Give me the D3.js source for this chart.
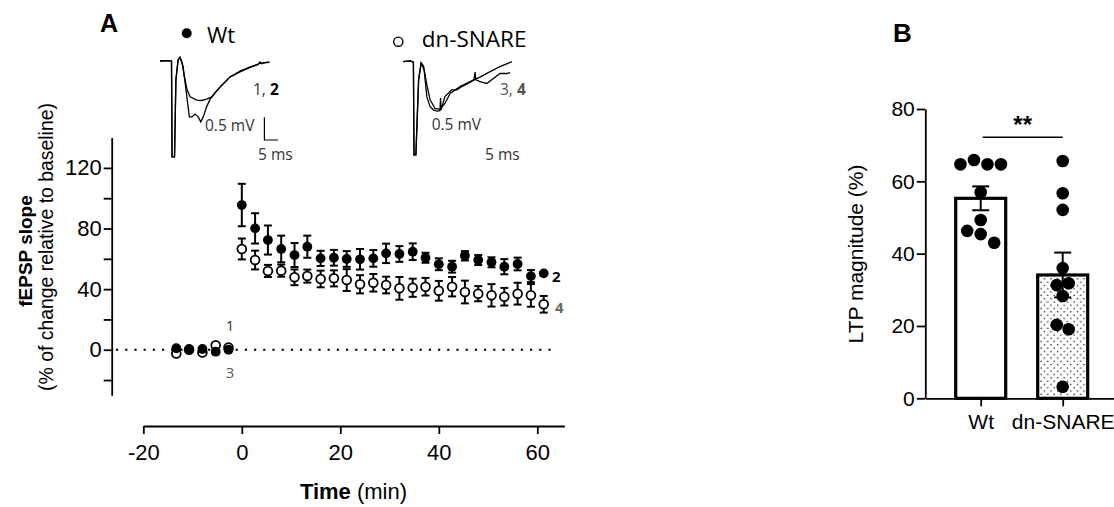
<!DOCTYPE html>
<html>
<head>
<meta charset="utf-8">
<script src="https://cdn.jsdelivr.net/npm/d3@7"></script>
<style>
  body { margin: 0; background: #fff; }
  svg { display: block; }
</style>
</head>
<body>
<div id="chart"></div>
<script>
// ---- panel A data (time course, mean +/- SEM) ----
var times = [-13.3, -10.7, -8, -5.3, -2.7,
  0, 2.7, 5.3, 8, 10.7, 13.3, 16, 18.7, 21.3, 24, 26.7, 29.3,
  32, 34.7, 37.3, 40, 42.7, 45.3, 48, 50.7, 53.3, 56, 58.7, 61.3];
var wtMean = [1, 0.5, 0.5, -1.3, 0,
  95.5, 80.1, 72.4, 66.5, 62.5, 68, 60.3, 60.7, 59.9, 59.7, 60.3, 63.6,
  63.2, 64.7, 60.7, 56.4, 54.8, 62, 59.2, 57.7, 54.8, 56.6, 48.6, 50.4];
var wtSem = [1, 1, 1, 1, 1,
  14, 10, 9.6, 8.8, 7.9, 7.3, 5, 5.2, 5.2, 6.8, 5.5, 6.4,
  5.2, 5.5, 3.3, 3.9, 3.9, 3.1, 3.3, 3.3, 5, 4.2, 4, 1];
var dnMean = [-2.4, 0, -1.8, 3, 1.5,
  66.5, 59.2, 52, 52.2, 47.8, 48.6, 46.7, 47.1, 46, 43.2, 44.2, 42.7,
  40.5, 40.9, 41.6, 38.9, 41.6, 38.1, 37, 35.9, 35, 37, 35.9, 30];
var dnSem = [1, 1, 1, 1, 1,
  6.9, 6.2, 4, 4, 5.2, 4.3, 5.5, 5.3, 7.2, 6, 5.8, 5.5,
  7.5, 6, 5.8, 6.5, 6.4, 7.5, 5, 7.4, 5.8, 7.2, 7.5, 5.5];
var xTicksA = [-20, 0, 20, 40, 60];
var yTicksA = [-20, 0, 20, 40, 60, 80, 100, 120];

// example fEPSP traces, [ms, mV]
var traceWt1 = [[0,0],[2.9,0.01],[4.2,0],[4.4,-2.11],[5.3,-2.11],[5.8,-0.42],[6.6,0.02],[7.3,0.08],
  [8,-0.02],[8.8,-0.31],[9.9,-0.64],[11,-0.79],[13.4,-0.86],[15.2,-0.87],[17,-0.84],[18.9,-0.79],
  [21.9,-0.57],[25.6,-0.35],[29.2,-0.24],[32.9,-0.14],[36.5,-0.05],[39.9,-0.02]];
var traceWt2 = [[0,0],[2.9,0.01],[4.2,0],[4.4,-2.11],[5.3,-2.11],[5.8,-0.42],[6.6,0.02],[7.3,0.08],
  [8.4,-0.11],[9.5,-0.64],[10.7,-1.23],[11.7,-1.23],[12.8,-1.17],[13.9,-1.23],[14.9,-1.34],[15.8,-1.23],
  [17,-1.01],[18.3,-0.84],[20.1,-0.7],[21.9,-0.58],[25.6,-0.35],[29.2,-0.22],[32.9,-0.13],[35.8,-0.08],
  [36.5,-0.02],[37,-0.06],[38,-0.04],[39.9,-0.03]];
var traceDn3 = [[0,0],[2.6,0.02],[3.8,-0.01],[4,-2.05],[4.7,-2.05],[5.7,-0.4],[6.6,-0.03],[7.5,-0.09],
  [8.7,-0.51],[9.9,-0.84],[11.7,-1.03],[13.5,-1.05],[15.3,-0.92],[17.2,-0.7],[20.8,-0.55],[24.5,-0.44],
  [28.1,-0.34],[31.8,-0.22],[35.4,-0.11],[39.7,0]];
var traceDn4 = [[0,0],[2.6,0.02],[3.8,-0.01],[4,-2.05],[4.7,-2.05],[5.7,-0.4],[6.6,-0.03],[7.7,-0.18],
  [8.7,-0.77],[9.9,-0.99],[11.1,-1.06],[12.4,-1.09],[13.5,-1.08],[13.7,-0.8],[13.9,-1.06],[15.3,-0.77],
  [17.8,-0.62],[19.6,-0.62],[21.4,-0.55],[23.8,-0.48],[25.9,-0.4],[26.3,-0.23],[26.6,-0.4],[28.1,-0.44],
  [30.6,-0.48],[33,-0.37],[35.4,-0.26],[37.9,-0.26],[39.1,-0.24]];

// ---- panel B data ----
var groupsB = ["Wt", "dn-SNARE"];
var barMeans = [55.3, 34.1];
var barSems = [3.3, 6.2];
var wtPoints = [64.7, 65.9, 64.7, 64.7, 57, 49.3, 46.3, 45.4, 43];
var dnPoints = [65.6, 56.7, 52.1, 36, 31.3, 31.8, 28.3, 20.3, 19.1, 3.2];
var yTicksB = [0, 20, 40, 60, 80];

var arial = "'Liberation Sans', Arial, sans-serif";
var calib = "'Open Sans', sans-serif";

var svg = d3.select("#chart")
  .append("svg")
    .attr("width", 1114)
    .attr("height", 507);

// ================= panel A =================
var x = d3.scaleLinear().domain([-20, 65.5]).range([143.3, 564.4]);
var y = d3.scaleLinear().domain([-30, 140]).range([395.2, 137.6]);

var yAxisA = svg.append("g")
    .attr("transform", "translate(111.7,0)")
    .call(d3.axisLeft(y).tickValues(yTicksA).tickSize(8).tickSizeOuter(0).tickPadding(2)
      .tickFormat(function(d) { return d % 40 === 0 ? String(d) : ""; }));

var xAxisA = svg.append("g")
    .attr("transform", "translate(0,426)")
    .call(d3.axisBottom(x).tickValues(xTicksA).tickSize(8).tickSizeOuter(0).tickPadding(10)
      .tickFormat(function(d) { return String(d); }));

[yAxisA, xAxisA].forEach(function(g) {
  g.selectAll("path, line").attr("stroke", "#000").attr("stroke-width", 1.8);
  g.selectAll("text").style("font-family", arial).style("font-size", "22px").attr("fill", "#000");
});

// dotted baseline
svg.append("line")
    .attr("x1", 116).attr("x2", 556)
    .attr("y1", y(0)).attr("y2", y(0))
    .attr("stroke", "#000")
    .attr("stroke-width", 2.2)
    .attr("stroke-dasharray", "2.2,7");

function drawSeries(means, sems, filled) {
  var g = svg.append("g");
  var idx = d3.range(times.length);
  g.selectAll("line.bar")
    .data(idx).enter().append("line")
      .attr("x1", function(i) { return x(times[i]); })
      .attr("x2", function(i) { return x(times[i]); })
      .attr("y1", function(i) { return y(means[i] - sems[i]); })
      .attr("y2", function(i) { return y(means[i] + sems[i]); })
      .attr("stroke", "#000").attr("stroke-width", 2);
  [-1, 1].forEach(function(sgn) {
    g.selectAll("line.cap" + sgn)
      .data(idx).enter().append("line")
        .attr("x1", function(i) { return x(times[i]) - 4; })
        .attr("x2", function(i) { return x(times[i]) + 4; })
        .attr("y1", function(i) { return y(means[i] + sgn * sems[i]); })
        .attr("y2", function(i) { return y(means[i] + sgn * sems[i]); })
        .attr("stroke", "#000").attr("stroke-width", 2);
  });
  g.selectAll("circle")
    .data(idx).enter().append("circle")
      .attr("cx", function(i) { return x(times[i]); })
      .attr("cy", function(i) { return y(means[i]); })
      .attr("r", filled ? 4.9 : 4.4)
      .attr("fill", filled ? "#000" : "#fff")
      .attr("stroke", "#000")
      .attr("stroke-width", filled ? 0 : 1.8);
}
drawSeries(dnMean, dnSem, false);
drawSeries(wtMean, wtSem, true);

// point labels
svg.append("text").attr("x", 230).attr("y", 331).attr("text-anchor", "middle")
  .style("font-family", calib).style("font-size", "15px").attr("fill", "#333").text("1");
svg.append("text").attr("x", 230).attr("y", 378).attr("text-anchor", "middle")
  .style("font-family", calib).style("font-size", "15px").attr("fill", "#595959").text("3");
svg.append("text").attr("x", 552).attr("y", 282)
  .style("font-family", calib).style("font-size", "15px").style("font-weight", "bold").attr("fill", "#000").text("2");
svg.append("text").attr("x", 555).attr("y", 313)
  .style("font-family", calib).style("font-size", "15px").style("font-weight", "bold").attr("fill", "#666").text("4");

// axis titles
svg.append("text")
    .attr("transform", "translate(32,251) rotate(-90)")
    .attr("text-anchor", "middle")
    .style("font-family", arial).style("font-size", "19px").style("font-weight", "bold")
    .text("fEPSP slope");
svg.append("text")
    .attr("transform", "translate(53,247) rotate(-90)")
    .attr("text-anchor", "middle")
    .style("font-family", arial).style("font-size", "19.4px")
    .text("(% of change relative to baseline)");
var tt = svg.append("text")
    .attr("x", 353.5).attr("y", 499)
    .attr("text-anchor", "middle")
    .style("font-family", arial).style("font-size", "22px");
tt.append("tspan").style("font-weight", "bold").text("Time");
tt.append("tspan").text(" (min)");

svg.append("text").attr("x", 100).attr("y", 32)
  .style("font-family", arial).style("font-size", "25px").style("font-weight", "bold").text("A");

// legend
svg.append("circle").attr("cx", 186.7).attr("cy", 33.3).attr("r", 5).attr("fill", "#000");
svg.append("text").attr("x", 207).attr("y", 43)
  .style("font-family", calib).style("font-size", "22px").text("Wt");
svg.append("circle").attr("cx", 398.3).attr("cy", 41.7).attr("r", 4.6)
  .attr("fill", "#fff").attr("stroke", "#000").attr("stroke-width", 1.4);
svg.append("text").attr("x", 421.7).attr("y", 47)
  .style("font-family", calib).style("font-size", "22.5px").text("dn-SNARE");

// traces
var msL = d3.scaleLinear().domain([0, 40]).range([160, 269.6]);
var mvL = d3.scaleLinear().domain([0, -2]).range([61, 151.8]);
var msR = d3.scaleLinear().domain([0, 40]).range([403, 512.6]);
var mvR = d3.scaleLinear().domain([0, -2]).range([61.7, 152.5]);
var lineL = d3.line().x(function(d) { return msL(d[0]); }).y(function(d) { return mvL(d[1]); });
var lineR = d3.line().x(function(d) { return msR(d[0]); }).y(function(d) { return mvR(d[1]); });

[traceWt1, traceWt2].forEach(function(tr) {
  svg.append("path").attr("d", lineL(tr)).attr("fill", "none").attr("stroke", "#000").attr("stroke-width", 1.3);
});
[traceDn3, traceDn4].forEach(function(tr) {
  svg.append("path").attr("d", lineR(tr)).attr("fill", "none").attr("stroke", "#000").attr("stroke-width", 1.3);
});

// scale bar (0.5 mV, 5 ms)
svg.append("path")
    .attr("d", lineL([[38.1, -1.24], [38.1, -1.74], [43.1, -1.74]]))
    .attr("fill", "none").attr("stroke", "#000").attr("stroke-width", 1.2);

function small(xp, yp, parts) {
  var t = svg.append("text").attr("x", xp).attr("y", yp)
    .style("font-family", calib).style("font-size", "15.5px");
  parts.forEach(function(p) {
    t.append("tspan").text(p[0]).attr("fill", p[1]).style("font-weight", p[2] ? "bold" : "normal");
  });
}
small(253, 95, [["1, ", "#333"], ["2", "#000", true]]);
small(205, 131, [["0.5 mV", "#333"]]);
small(258, 160, [["5 ms", "#333"]]);
small(500, 95, [["3, ", "#555"], ["4", "#555", true]]);
small(431.7, 130, [["0.5 mV", "#333"]]);
small(485, 160, [["5 ms", "#333"]]);

// ================= panel B =================
var yB = d3.scaleLinear().domain([0, 80]).range([398.3, 109]);
var xB = d3.scalePoint().domain(groupsB).range([925.3, 1118.1]).padding(0.6756);

var defs = svg.append("defs");
var pat = defs.append("pattern")
    .attr("id", "dots")
    .attr("patternUnits", "userSpaceOnUse")
    .attr("width", 6.6).attr("height", 6.6);
pat.append("rect").attr("width", 6.6).attr("height", 6.6).attr("fill", "#fff");
pat.append("circle").attr("cx", 1.6).attr("cy", 1.6).attr("r", 0.75).attr("fill", "#000");
pat.append("circle").attr("cx", 4.9).attr("cy", 4.9).attr("r", 0.75).attr("fill", "#000");

svg.selectAll("rect.barB")
  .data(groupsB).enter().append("rect")
    .attr("class", "barB")
    .attr("x", function(d) { return xB(d) - 25; })
    .attr("width", 50)
    .attr("y", function(d, i) { return yB(barMeans[i]); })
    .attr("height", function(d, i) { return yB(0) - yB(barMeans[i]); })
    .attr("fill", function(d, i) { return i === 0 ? "#fff" : "url(#dots)"; })
    .attr("stroke", "#000")
    .attr("stroke-width", 3.2);

var yAxisB = svg.append("g")
    .attr("transform", "translate(925.3,0)")
    .call(d3.axisLeft(yB).tickValues(yTicksB).tickSize(8.5).tickSizeOuter(0).tickPadding(2));
var xAxisB = svg.append("g")
    .attr("transform", "translate(0,398.3)")
    .call(d3.axisBottom(xB).tickSize(8).tickSizeOuter(0).tickPadding(8));
[yAxisB, xAxisB].forEach(function(g) {
  g.selectAll("path, line").attr("stroke", "#000").attr("stroke-width", 1.8);
  g.selectAll("text").style("font-family", arial).style("font-size", "21px").attr("fill", "#000");
});

// error bars
groupsB.forEach(function(gname, i) {
  var cx = xB(gname);
  svg.append("line").attr("x1", cx).attr("x2", cx)
    .attr("y1", yB(barMeans[i] - barSems[i])).attr("y2", yB(barMeans[i] + barSems[i]))
    .attr("stroke", "#000").attr("stroke-width", 2);
  [-1, 1].forEach(function(sgn) {
    svg.append("line").attr("x1", cx - 8.5).attr("x2", cx + 8.5)
      .attr("y1", yB(barMeans[i] + sgn * barSems[i])).attr("y2", yB(barMeans[i] + sgn * barSems[i]))
      .attr("stroke", "#000").attr("stroke-width", 2);
  });
});

// simple row-based swarm for the dots
function swarm(values) {
  var pxPerUnit = (yB(0) - yB(1));
  var order = d3.range(values.length).sort(function(a, b) { return values[b] - values[a]; });
  var groups = [], cur = [];
  order.forEach(function(i, k) {
    if (k > 0 && (values[order[k - 1]] - values[i]) * pxPerUnit >= 10) { groups.push(cur); cur = []; }
    cur.push(i);
  });
  groups.push(cur);
  var off = [];
  groups.forEach(function(g) {
    g.sort(function(a, b) { return a - b; });
    var step = g.length > 2 ? 13.5 : 12;
    g.forEach(function(i, k) { off[i] = (k - (g.length - 1) / 2) * step; });
  });
  return off;
}

[wtPoints, dnPoints].forEach(function(vals, gi) {
  var off = swarm(vals);
  svg.selectAll("circle.pt" + gi)
    .data(vals).enter().append("circle")
      .attr("cx", function(d, i) { return xB(groupsB[gi]) + off[i]; })
      .attr("cy", function(d) { return yB(d); })
      .attr("r", 6.3)
      .attr("fill", "#000");
});

// significance
svg.append("line")
    .attr("x1", xB("Wt") + 2).attr("x2", xB("dn-SNARE"))
    .attr("y1", yB(72.2)).attr("y2", yB(72.2))
    .attr("stroke", "#000").attr("stroke-width", 1.5);
svg.append("text")
    .attr("x", (xB("Wt") + xB("dn-SNARE")) / 2 + 1).attr("y", yB(72.2) - 4)
    .attr("text-anchor", "middle")
    .style("font-family", arial).style("font-size", "24px").style("font-weight", "bold")
    .text("**");

svg.append("text")
    .attr("transform", "translate(863,254) rotate(-90)")
    .attr("text-anchor", "middle")
    .style("font-family", arial).style("font-size", "21px")
    .text("LTP magnitude (%)");

svg.append("text").attr("x", 893).attr("y", 41.7)
  .style("font-family", arial).style("font-size", "26px").style("font-weight", "bold").text("B");
</script>
</body>
</html>
